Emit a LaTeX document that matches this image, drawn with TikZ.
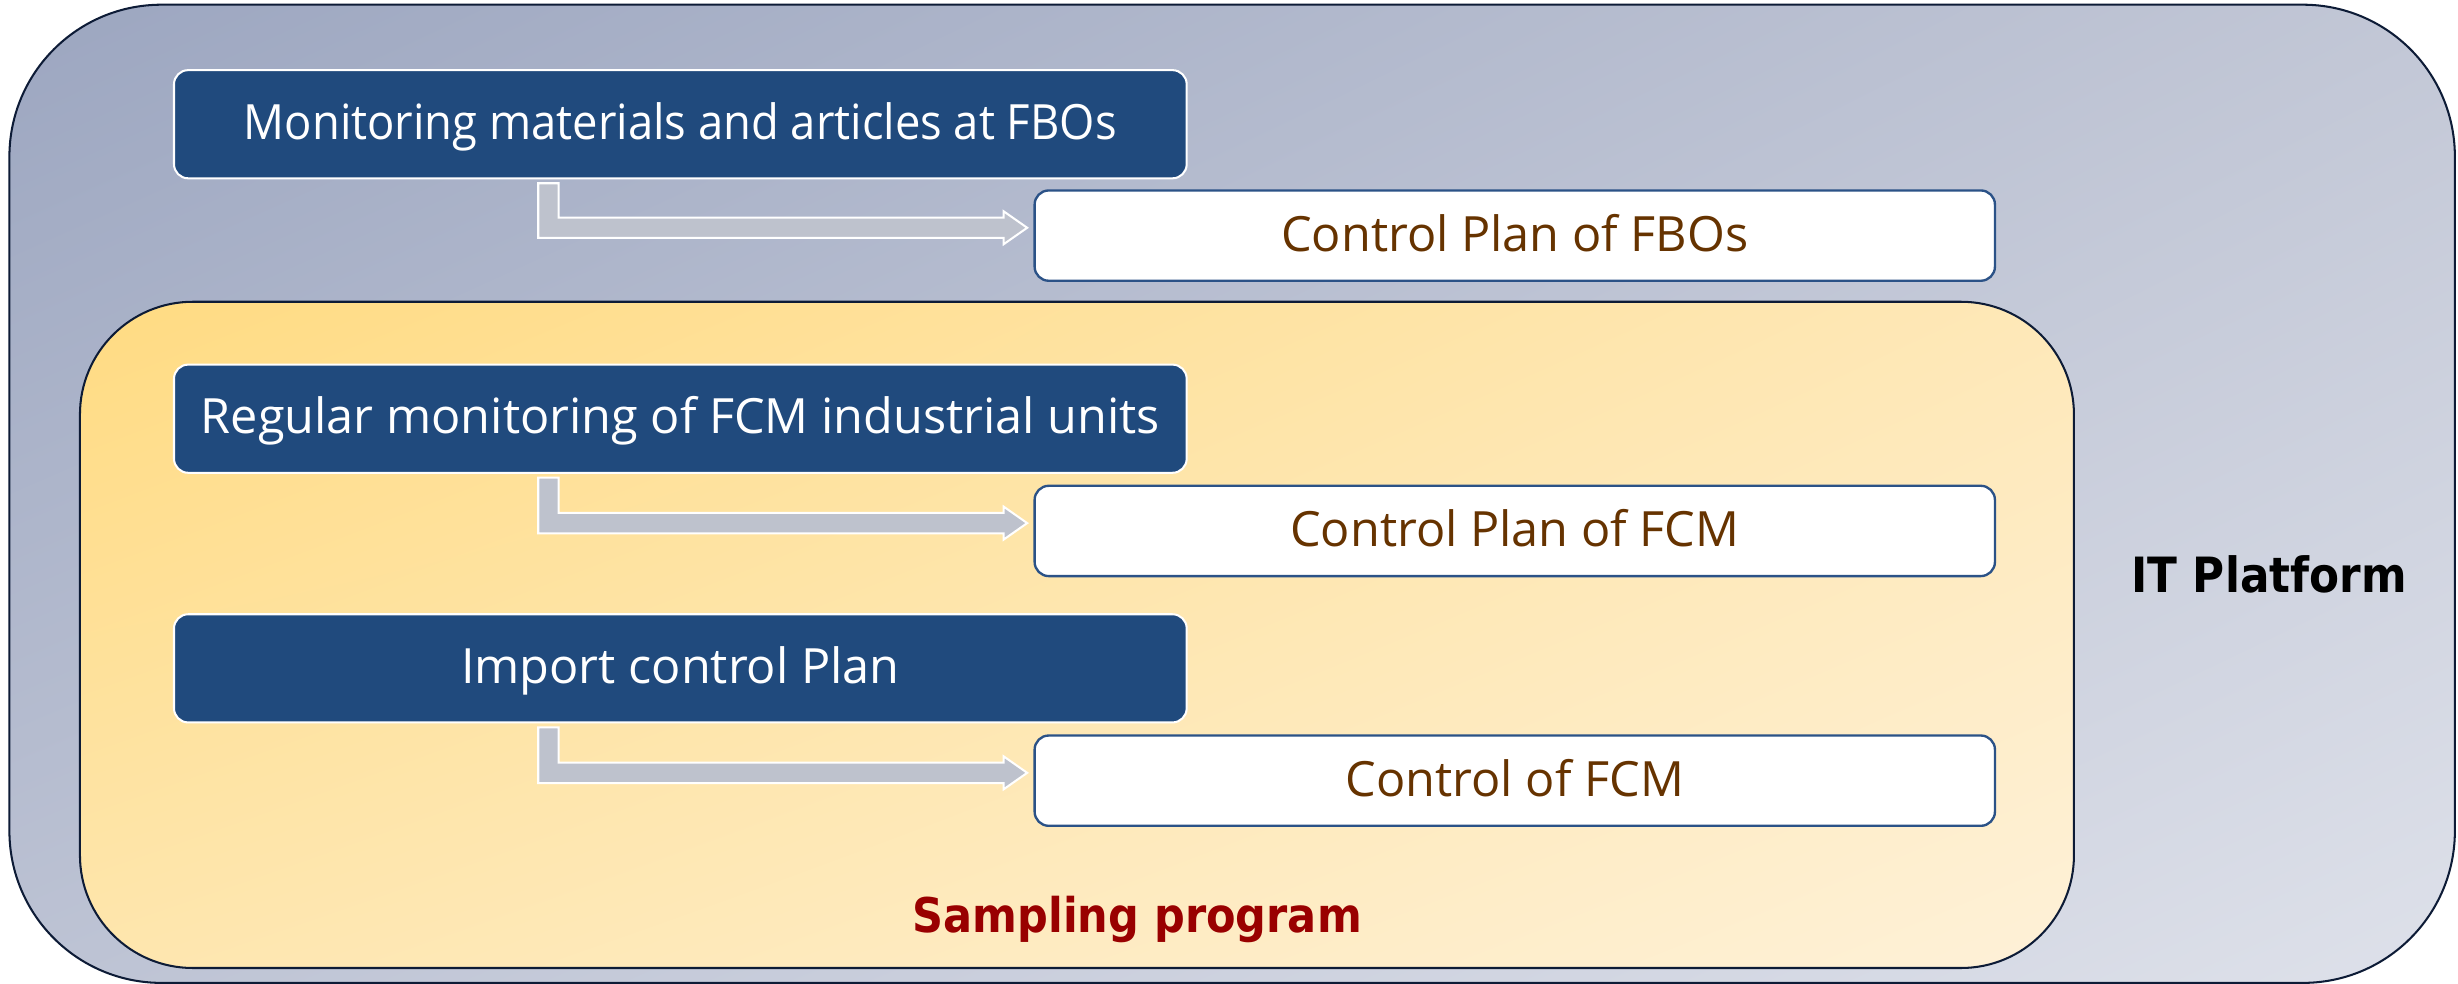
\documentclass[tikz,border=0pt]{standalone}
\usepackage{fontspec}
\setmainfont{Open Sans}
\newfontfamily\lblfont[FakeStretch=0.9]{DejaVu Sans}
\usetikzlibrary{calc,shadings}
\definecolor{boxblue}{HTML}{204A7D}
\definecolor{boxedge}{HTML}{2B5287}
\definecolor{brownt}{HTML}{663300}
\definecolor{darkred}{HTML}{990000}
\definecolor{frameedge}{HTML}{0D1B36}
\definecolor{arrowgray}{HTML}{BEC2CD}
\definecolor{outUL}{HTML}{9CA6C0}
\definecolor{outUR}{HTML}{C2C7D6}
\definecolor{outLL}{HTML}{BDC3D4}
\definecolor{outLR}{HTML}{DEE1EA}
\definecolor{inUL}{HTML}{FFDB82}
\definecolor{inUR}{HTML}{FEE8B8}
\definecolor{inLL}{HTML}{FEE6AE}
\definecolor{inLR}{HTML}{FEF1D8}
\tikzset{
  bluebox/.style={rectangle, rounded corners=9pt, fill=boxblue, draw=white, line width=1.3pt,
    minimum width=646pt, minimum height=69pt, inner sep=0pt, text=white,
    font=\fontsize{31}{37}\selectfont, text height=22.1pt, text depth=2.6pt},
  whitebox/.style={rectangle, rounded corners=9pt, fill=white, draw=boxedge, line width=1.5pt,
    minimum width=612.6pt, minimum height=57.6pt, inner sep=0pt, text=brownt,
    font=\fontsize{31}{37}\selectfont, text height=22.1pt, text depth=2.2pt},
  arrowshape/.style={fill=arrowgray, draw=white, line width=1.3pt, line join=miter},
  framelabel/.style={inner sep=0pt, text depth=0pt}
}
\newcommand{\bentarrow}[2]{%
  \path[arrowshape] let \p1=(#1.south west), \p2=(#2.west) in
    (\x1+233pt,\y1-2.5pt) -- (\x1+246pt,\y1-2.5pt) -- (\x1+246pt,\y2+11.5pt)
    -- (\x2-19pt,\y2+11.5pt) -- (\x2-19pt,\y2+15.5pt) -- (\x2-4pt,\y2+5pt)
    -- (\x2-19pt,\y2-5.5pt) -- (\x2-19pt,\y2-1.5pt) -- (\x1+233pt,\y2-1.5pt) -- cycle;}
\begin{document}
\begin{tikzpicture}[x=1pt, y=-1pt]
\useasboundingbox (0,0) rectangle (1568,627.7);
\fill[white] (0,0) rectangle (1568,627.7);
% IT platform frame
\shadedraw[upper left=outUL, upper right=outUR, lower left=outLL, lower right=outLR,
  draw=frameedge, line width=1.3pt, rounded corners=97pt] (6,3) rectangle (1566,627);
% sampling program frame
\shadedraw[upper left=inUL, upper right=inUR, lower left=inLL, lower right=inLR,
  draw=frameedge, line width=1.3pt, rounded corners=72pt] (51,192.5) rectangle (1323,617.5);

\node[bluebox] (b1) at (434,79.25) {\scalebox{0.933}[1]{Monitoring materials and articles at FBOs}};
\node[bluebox] (b2) at (434,267.1) {Regular monitoring of FCM industrial units};
\node[bluebox] (b3) at (434,426.35) {Import control Plan};

\node[whitebox] (w1) at (966.3,150.3) {Control Plan of FBOs};
\node[whitebox] (w2) at (966.3,338.7) {Control Plan of FCM};
\node[whitebox] (w3) at (966.3,498) {Control of FCM};

\bentarrow{b1}{w1}
\bentarrow{b2}{w2}
\bentarrow{b3}{w3}

\node[framelabel, font=\lblfont\bfseries\fontsize{31}{37}\selectfont, text=black, text height=22.6pt] (itp) at (1447.5,366.5) {IT Platform};
\node[framelabel, font=\lblfont\bfseries\fontsize{30.5}{36}\selectfont, text=darkred, text height=22.2pt] (samp) at (725.5,584) {Sampling program};
\end{tikzpicture}
\end{document}
